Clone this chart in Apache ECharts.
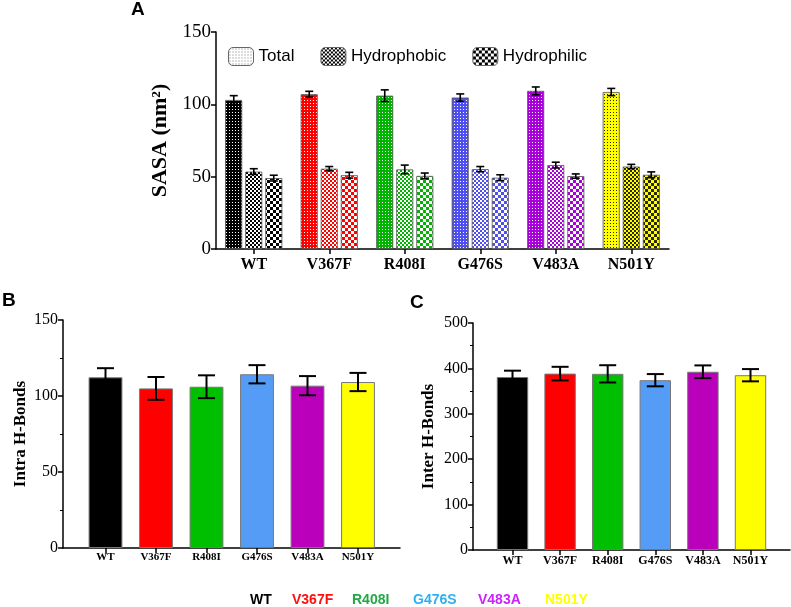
<!DOCTYPE html>
<html><head><meta charset="utf-8">
<script src="https://cdn.jsdelivr.net/npm/echarts@6/dist/echarts.min.js"></script>
<style>html,body{margin:0;padding:0;background:#fff}#c{width:791px;height:607px}</style>
</head><body><div id="c"></div>
<script>
// ---------- data ----------
const categories = ['WT', 'V367F', 'R408I', 'G476S', 'V483A', 'N501Y'];
const seriesNamesA = ['Total', 'Hydrophobic', 'Hydrophilic'];
const sasaTotal = [103, 107, 106, 104.7, 109.3, 108.5];
const sasaTotalErr = [3, 2, 4, 2.5, 2.7, 2.5];
const sasaHydrophobic = [53.5, 55.5, 55, 55.2, 58, 57];
const sasaHydrophobicErr = [2, 1.5, 3, 1.8, 2, 1.5];
const sasaHydrophilic = [49, 51, 50.5, 49.3, 50.4, 51.3];
const sasaHydrophilicErr = [2, 2, 2, 2, 1.5, 2];
const intraHBonds = [112.3, 105, 106.1, 114.3, 106.8, 109.2];
const intraHBondsErr = [6, 7.5, 7.5, 6, 6.3, 6];
const interHBonds = [381, 388.5, 388, 374, 392.6, 385];
const interHBondsErr = [14, 15, 19, 13.5, 14, 13.5];

// ---------- styles ----------
const colorsA = ['#000000', '#ff0000', '#00b400', '#4f4ff0', '#a800d8', '#ffff00'];
const secondA = ['#ffffff', '#ffffff', '#ffffff', '#ffffff', '#ffffff', '#2a2a00'];
const colorsBC = ['#000000', '#ff0000', '#00bf00', '#559cf7', '#bb00bb', '#ffff00'];
const bottomColors = ['#000000', '#ff1010', '#22a845', '#2eb0f0', '#cc22ff', '#ffff00'];

function pattern(kind, main, second) {
  const c = document.createElement('canvas');
  const ctx = c.getContext('2d');
  if (kind === 'dot') {
    c.width = c.height = 3;
    ctx.fillStyle = main; ctx.fillRect(0, 0, 3, 3);
    ctx.fillStyle = second; ctx.fillRect(1, 1, 1, 1);
  } else if (kind === 'fine') {
    c.width = c.height = 4;
    ctx.fillStyle = main; ctx.fillRect(0, 0, 4, 4);
    ctx.fillStyle = second; ctx.fillRect(0, 0, 2, 2); ctx.fillRect(2, 2, 2, 2);
  } else {
    c.width = c.height = 6;
    ctx.fillStyle = main; ctx.fillRect(0, 0, 6, 6);
    ctx.fillStyle = second; ctx.fillRect(0, 0, 3, 3); ctx.fillRect(3, 3, 3, 3);
  }
  return { image: c, repeat: 'repeat' };
}
const kinds = ['dot', 'fine', 'coarse'];
const valuesA = [sasaTotal, sasaHydrophobic, sasaHydrophilic];
const errsA = [sasaTotalErr, sasaHydrophobicErr, sasaHydrophilicErr];

function errRender(offset, capW, lw) {
  return function (params, api) {
    const i = api.value(0);
    const top = api.coord([i, api.value(2)]);
    const bot = api.coord([i, api.value(1)]);
    const x = top[0] + offset;
    const st = { stroke: '#000', lineWidth: lw };
    return { type: 'group', children: [
      { type: 'line', shape: { x1: x, y1: top[1], x2: x, y2: bot[1] }, style: st },
      { type: 'line', shape: { x1: x - capW / 2, y1: top[1], x2: x + capW / 2, y2: top[1] }, style: st },
      { type: 'line', shape: { x1: x - capW / 2, y1: bot[1], x2: x + capW / 2, y2: bot[1] }, style: st }
    ]};
  };
}
function errData(vals, errs) { return vals.map((v, i) => [i, v - errs[i], v + errs[i]]); }

const serif = '"Liberation Serif", "Times New Roman", serif';
const sans = '"Liberation Sans", Arial, sans-serif';
const axisLine = { show: true, lineStyle: { color: '#000', width: 1.5 } };

const series = [];
valuesA.forEach((vals, k) => {
  series.push({
    name: seriesNamesA[k], type: 'bar', xAxisIndex: 0, yAxisIndex: 0,
    barWidth: 17, barGap: '18%',
    itemStyle: { borderColor: '#555', borderWidth: 0.8 },
    data: vals.map((v, i) => ({ value: v, itemStyle: { color: pattern(kinds[k], colorsA[i], secondA[i]) } }))
  });
});
valuesA.forEach((vals, k) => {
  series.push({
    type: 'custom', xAxisIndex: 0, yAxisIndex: 0, z: 10,
    renderItem: errRender((k - 1) * 20, 8, 1.6),
    encode: { x: 0, y: [1, 2] },
    data: errData(vals, errsA[k])
  });
});
series.push({
  name: 'Intra', type: 'bar', xAxisIndex: 2, yAxisIndex: 2, barCategoryGap: '33%',
  itemStyle: { borderColor: '#777', borderWidth: 1 },
  data: intraHBonds.map((v, i) => ({ value: v, itemStyle: { color: colorsBC[i] } }))
});
series.push({
  type: 'custom', xAxisIndex: 2, yAxisIndex: 2, z: 10,
  renderItem: errRender(0, 17, 2), encode: { x: 0, y: [1, 2] },
  data: errData(intraHBonds, intraHBondsErr)
});
series.push({
  name: 'Inter', type: 'bar', xAxisIndex: 4, yAxisIndex: 4, barCategoryGap: '34%',
  itemStyle: { borderColor: '#777', borderWidth: 1 },
  data: interHBonds.map((v, i) => ({ value: v, itemStyle: { color: colorsBC[i] } }))
});
series.push({
  type: 'custom', xAxisIndex: 4, yAxisIndex: 4, z: 10,
  renderItem: errRender(0, 17, 2), encode: { x: 0, y: [1, 2] },
  data: errData(interHBonds, interHBondsErr)
});

const hiddenAxis = { show: false };
const frameX = { type: 'value', min: 0, max: 1, axisLine: axisLine, axisTick: { show: false },
  axisLabel: { show: false }, splitLine: { show: false } };
function catAxis(grid, fontSize, margin, withLine) {
  return { type: 'category', gridIndex: grid, data: categories,
    axisLine: withLine ? axisLine : { show: false },
    axisTick: { show: true, alignWithLabel: true, length: 5, lineStyle: { color: '#000', width: 1.5 } },
    axisLabel: { fontFamily: serif, fontWeight: 'bold', fontSize: fontSize, color: '#000', margin: margin },
    splitLine: { show: false } };
}
function valAxis(grid, max, interval, name, nameSize, nameGap, labelSize, minor) {
  return { type: 'value', gridIndex: grid, min: 0, max: max, interval: interval,
    name: name, nameLocation: 'middle', nameGap: nameGap,
    nameTextStyle: { fontFamily: serif, fontWeight: 'bold', fontSize: nameSize, color: '#000' },
    axisLine: Object.assign({ onZero: false }, axisLine),
    axisTick: { show: true, length: 5, lineStyle: { color: '#000', width: 1.5 } },
    minorTick: { show: minor, splitNumber: 2, length: 3, lineStyle: { color: '#000', width: 1 } },
    axisLabel: { fontFamily: serif, fontSize: labelSize, color: '#000', margin: 5 },
    splitLine: { show: false } };
}

const graphic = [
  { type: 'text', left: 131, top: 0, style: { text: 'A', font: 'bold 19px ' + sans, fill: '#000' } },
  { type: 'text', left: 2, top: 291, style: { text: 'B', font: 'bold 19px ' + sans, fill: '#000' } },
  { type: 'text', left: 410, top: 293, style: { text: 'C', font: 'bold 19px ' + sans, fill: '#000' } }
];
const bottomX = [250, 292, 352, 413, 478, 545];
categories.forEach((c, i) => {
  graphic.push({ type: 'text', left: bottomX[i], top: 593,
    style: { text: c, font: 'bold 14px ' + sans, fill: bottomColors[i] } });
});

const option = {
  backgroundColor: '#fff',
  animation: false,
  textStyle: { fontFamily: serif },
  legend: {
    left: 228, top: 47, padding: 0, itemWidth: 25, itemHeight: 18, itemGap: 26, icon: 'roundRect',
    textStyle: { fontFamily: sans, fontSize: 17, color: '#000' },
    data: [
      { name: 'Total', itemStyle: { color: pattern('dot', '#ffffff', '#777777'), borderColor: '#666', borderWidth: 1 } },
      { name: 'Hydrophobic', itemStyle: { color: pattern('fine', '#000000', '#ffffff'), borderColor: '#666', borderWidth: 1 } },
      { name: 'Hydrophilic', itemStyle: { color: pattern('coarse', '#000000', '#ffffff'), borderColor: '#666', borderWidth: 1 } }
    ]
  },
  grid: [
    { left: 216, top: 32, width: 453, height: 217 },
    { left: 63, top: 320, width: 337, height: 228 },
    { left: 80.25, top: 320, width: 303, height: 228 },
    { left: 473, top: 323, width: 317, height: 227 },
    { left: 488.7, top: 323, width: 285.6, height: 227 }
  ],
  xAxis: [
    catAxis(0, 16, 8, true),
    Object.assign({ gridIndex: 1 }, frameX),
    catAxis(2, 11, 4, false),
    Object.assign({ gridIndex: 3 }, frameX),
    catAxis(4, 12, 5, false)
  ],
  yAxis: [
    valAxis(0, 150, 50, 'SASA (nm²)', 22, 44, 19, false),
    valAxis(1, 150, 50, 'Intra H-Bonds', 17, 34, 16, true),
    Object.assign({ type: 'value', gridIndex: 2, min: 0, max: 150 }, hiddenAxis),
    valAxis(3, 500, 100, 'Inter H-Bonds', 17, 36, 16, true),
    Object.assign({ type: 'value', gridIndex: 4, min: 0, max: 500 }, hiddenAxis)
  ],
  graphic: graphic,
  series: series
};
const chart = echarts.init(document.getElementById('c'), null, { renderer: 'canvas' });
chart.setOption(option);
</script></body></html>
